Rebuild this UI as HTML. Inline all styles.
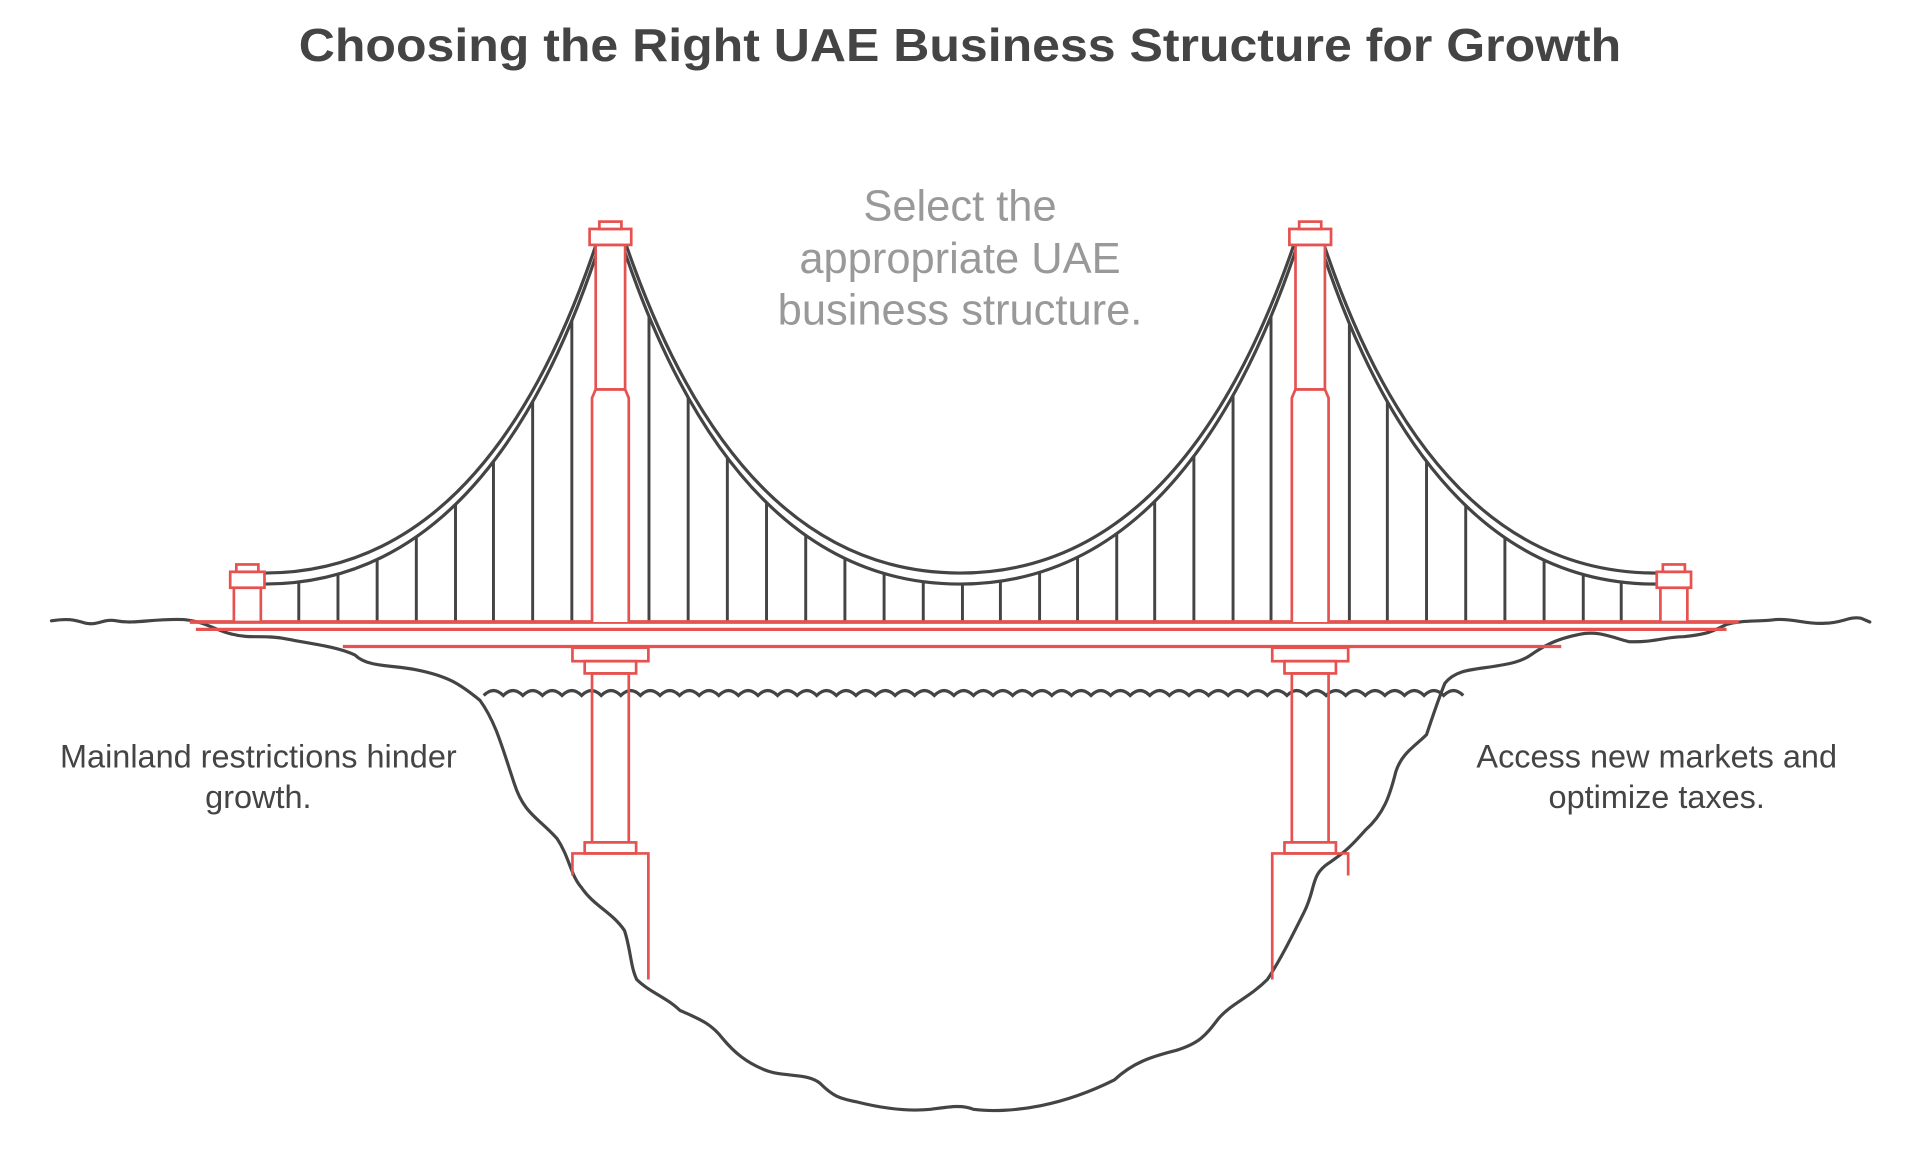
<!DOCTYPE html>
<html><head><meta charset="utf-8">
<style>
html,body{margin:0;padding:0;background:#fff;}
svg{display:block;}
text{font-family:"Liberation Sans",Arial,sans-serif;}
</style></head>
<body>
<svg id="s" width="1920" height="1173" viewBox="0 0 1568 958" preserveAspectRatio="none" xmlns="http://www.w3.org/2000/svg">
<text x="784" y="50" text-anchor="middle" font-size="38" font-weight="bold" fill="#444" textLength="1080" lengthAdjust="spacingAndGlyphs">Choosing the Right UAE Business Structure for Growth</text>
<g fill="#999" font-size="35.5" text-anchor="middle">
<text x="784" y="180">Select the</text>
<text x="784" y="223">appropriate UAE</text>
<text x="784" y="265">business structure.</text>
</g>
<g fill="#444" font-size="26.5" text-anchor="middle">
<text x="211" y="627">Mainland restrictions hinder</text>
<text x="211" y="660">growth.</text>
<text x="1353" y="627">Access new markets and</text>
<text x="1353" y="660">optimize taxes.</text>
</g>
<path id="water" fill="none" stroke="#444" stroke-width="2.6"/>
<g id="dark" fill="none" stroke="#444" stroke-width="2.6" stroke-linecap="round" stroke-linejoin="round">
<path d="M42,507 C55,505 60,506 70,509 C80,511 85,505 95,507 C110,510 125,505 150,506 C170,508 175,515 190,518 C205,522 215,518 235,522 C255,526 275,528 290,535 C300,545 320,543 340,547 C365,552 375,558 392,572 C405,590 410,610 420,640 C428,665 440,668 455,685 C465,700 466,715 475,725 C485,740 500,745 510,760 C515,775 515,790 520,800 C530,810 545,815 555,825 C570,832 580,835 590,848 C600,860 610,868 625,874 C640,880 660,876 670,885 C680,895 685,897 700,900 C720,905 740,908 760,906 C775,904 785,902 795,906 C810,908 830,907 850,903 C870,899 890,892 910,882 C925,868 940,863 960,858 C980,852 985,845 995,832 C1005,820 1020,815 1035,800 C1045,785 1055,765 1065,745 C1075,725 1070,715 1085,705 C1095,698 1100,695 1115,678 C1130,665 1135,650 1140,630 C1145,615 1155,610 1165,600 C1170,585 1175,570 1180,558 C1188,548 1200,547 1215,545 C1235,542 1243,540 1250,535 C1260,528 1270,522 1290,518 C1305,515 1315,520 1330,524 C1350,525 1360,520 1375,520 C1395,518 1400,515 1410,510 C1425,506 1435,508 1450,506 C1465,505 1475,510 1490,509 C1505,509 1510,503 1520,505 L1527,508"/>
</g>
<g id="cab" fill="none" stroke="#444" stroke-width="2.6"></g>
<g id="hang" stroke="#444" stroke-width="2.4"></g>
<g id="red" fill="#fff" stroke="#e5524f" stroke-width="2.2"></g>
</svg>
<script>
var NS="http://www.w3.org/2000/svg";
function el(p,t,a){var e=document.createElementNS(NS,t);for(var k in a)e.setAttribute(k,a[k]);p.appendChild(e);return e;}
var cab=document.getElementById('cab'),hang=document.getElementById('hang'),red=document.getElementById('red');
var segs=[
 [[216,468],[400,468],[490,190]],
 [[508,190],[600,468],[784,468]],
 [[784,468],[968,468],[1060,190]],
 [[1078,190],[1168,468],[1352,468]]];
var off=9;
segs.forEach(function(s){
  for(var o=0;o<2;o++){
    var d=o*off;
    el(cab,'path',{d:'M'+s[0][0]+','+(s[0][1]+d)+' Q'+s[1][0]+','+(s[1][1]+d)+' '+s[2][0]+','+(s[2][1]+d)});
  }
});
function yAt(x){
  for(var i=0;i<segs.length;i++){var s=segs[i];
    var lo=Math.min(s[0][0],s[2][0]),hi=Math.max(s[0][0],s[2][0]);
    if(x>=lo&&x<=hi){
      var a=0,b=1;
      for(var k=0;k<40;k++){var t=(a+b)/2;var xx=(1-t)*(1-t)*s[0][0]+2*(1-t)*t*s[1][0]+t*t*s[2][0];
        if((xx<x)==(s[0][0]<s[2][0]))a=t;else b=t;}
      var t=(a+b)/2;return (1-t)*(1-t)*s[0][1]+2*(1-t)*t*s[1][1]+t*t*s[2][1]+off;}
  }return null;}
var hx=[244,276,308,340,372,403,435,467,530,562,594,626,658,690,722,754,786,817,849,880,912,943,975,1007,1038,1102,1133,1165,1197,1229,1261,1293,1324];
hx.forEach(function(x){var y=yAt(x);if(y!==null)el(hang,'line',{x1:x,y1:y,x2:x,y2:507});});
var d='M395,568';for(var x=395;x<1180;x+=16){d+=' Q'+(x+8)+','+(560)+' '+(x+16)+',568';}
document.getElementById('water').setAttribute('d',d);
el(red,'line',{x1:155,y1:508,x2:1420,y2:508,'stroke-width':3});
el(red,'line',{x1:160,y1:514,x2:1410,y2:514,'stroke-width':2.6});
el(red,'line',{x1:280,y1:528,x2:1275,y2:528,'stroke-width':2.6});
function small(cx){
  el(red,'rect',{x:cx-11,y:480,width:22,height:28});
  el(red,'rect',{x:cx-14,y:467,width:28,height:13});
  el(red,'rect',{x:cx-9,y:461,width:18,height:6});
}
small(202);small(1367);
function tower(cx,mir){
  el(red,'path',{d:'M'+(cx-15)+',508 L'+(cx-15)+',325 L'+(cx-12)+',318 L'+(cx+12)+',318 L'+(cx+15)+',325 L'+(cx+15)+',508'});
  el(red,'rect',{x:cx-12,y:200,width:24,height:118});
  el(red,'rect',{x:cx-17,y:187,width:34,height:13});
  el(red,'rect',{x:cx-9,y:181,width:18,height:6});
  el(red,'rect',{x:cx-31,y:529,width:62,height:11});
  el(red,'rect',{x:cx-21,y:540,width:42,height:10});
  el(red,'rect',{x:cx-15,y:550,width:30,height:138,fill:'none'});
  el(red,'rect',{x:cx-21,y:688,width:42,height:9});
  if(!mir) el(red,'path',{d:'M'+(cx-31)+',715 L'+(cx-31)+',697 L'+(cx+31)+',697 L'+(cx+31)+',800',fill:'none'});
  else el(red,'path',{d:'M'+(cx+31)+',715 L'+(cx+31)+',697 L'+(cx-31)+',697 L'+(cx-31)+',800',fill:'none'});
}
tower(498.5,false);tower(1070,true);
</script>
</body></html>
